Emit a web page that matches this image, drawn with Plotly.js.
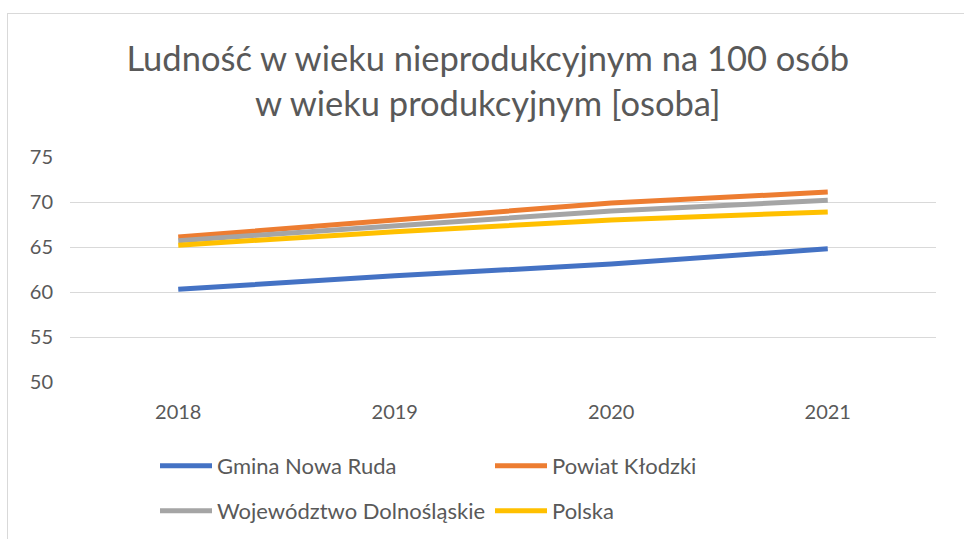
<!DOCTYPE html>
<html>
<head>
<meta charset="utf-8">
<script src="https://cdn.plot.ly/plotly-3.0.1.min.js"></script>
<style>
html,body{margin:0;padding:0;background:#fff;}
#wrap{position:relative;width:964px;height:539px;overflow:hidden;}
#chart{position:absolute;left:0;top:0;width:964px;height:539px;}
#frame{position:absolute;left:7px;top:13px;width:2000px;height:2000px;border-left:1px solid #d9d9d9;border-top:1px solid #d9d9d9;pointer-events:none;}
</style>
</head>
<body>
<div id="wrap"><div id="chart"></div><div id="frame"></div></div>
<script>
const years = ['2018', '2019', '2020', '2021'];
const gminaNowaRuda = [60.3, 61.8, 63.1, 64.8];
const powiatKlodzki = [66.1, 68.0, 69.9, 71.1];
const wojewodztwo = [65.7, 67.3, 69.0, 70.2];
const polska = [65.2, 66.7, 68.0, 68.9];
const seriesNames = ['Gmina Nowa Ruda', 'Powiat Kłodzki', 'Województwo Dolnośląskie', 'Polska'];
const yTicks = [50, 55, 60, 65, 70, 75];

const FONT = 'Lato, "Open Sans", sans-serif';
const TXT = '#595959';

function tr(y, name, color, legend) {
  return {x: years, y: y, name: name, type: 'scatter', mode: 'lines',
    line: {color: color, width: 5}, legend: legend, hoverinfo: 'x+y+name'};
}

const data = [
  tr(gminaNowaRuda, seriesNames[0], '#4472C4', 'legend'),
  tr(powiatKlodzki, seriesNames[1], '#ED7D31', 'legend2'),
  tr(wojewodztwo, seriesNames[2], '#A5A5A5', 'legend3'),
  tr(polska, seriesNames[3], '#FFC000', 'legend4')
];

function leg(px, py) {
  return {orientation: 'v', xanchor: 'left', yanchor: 'middle',
    font: {family: FONT, size: 22, color: TXT}, bgcolor: 'rgba(0,0,0,0)',
    itemwidth: 52, x: (px - 70) / 866, y: (382 - py) / 225};
}

const layout = {
  width: 964, height: 539,
  paper_bgcolor: '#fff', plot_bgcolor: '#fff',
  margin: {l: 70, r: 28, t: 157, b: 157, autoexpand: false},
  font: {family: FONT, color: TXT},
  title: {text: 'Ludność w wieku nieprodukcyjnym na 100 osób<br>w wieku produkcyjnym [osoba]',
    font: {family: FONT, size: 34.5, color: TXT}, x: 0.506, xanchor: 'center',
    y: 1 - 71/539, yanchor: 'top', yref: 'container'},
  xaxis: {type: 'category', range: [-0.5, 3.5], showgrid: false, zeroline: false,
    showline: false, ticks: '', tickfont: {family: FONT, size: 20, color: TXT},
    ticklabelstandoff: 16, fixedrange: true},
  yaxis: {range: [50, 75], tickvals: yTicks, ticktext: yTicks.map(String),
    showgrid: true, gridcolor: '#d9d9d9', gridwidth: 1, zeroline: false, showline: false,
    ticks: '', tickfont: {family: FONT, size: 20, color: TXT}, ticklabelstandoff: 16,
    fixedrange: true},
  showlegend: true,
  legend: leg(155, 466),
  legend2: leg(490, 466),
  legend3: leg(155, 511),
  legend4: leg(490, 511)
};

Plotly.newPlot('chart', data, layout, {displayModeBar: false, staticPlot: true});
</script>
</body>
</html>
